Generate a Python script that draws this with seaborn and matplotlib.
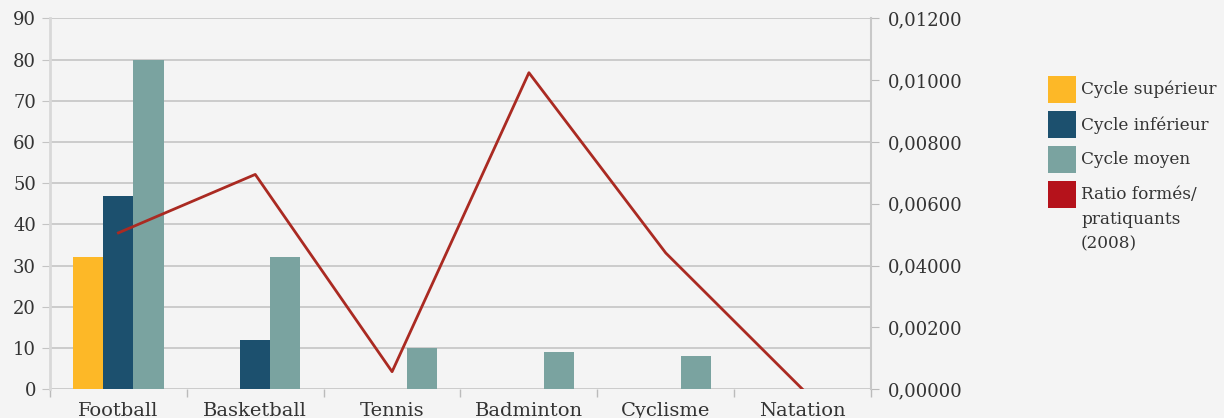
import numpy as np
import pandas as pd
import matplotlib
matplotlib.use('Agg')
import matplotlib.pyplot as plt
from matplotlib.patches import Rectangle
from matplotlib.ticker import FixedLocator, FixedFormatter
import seaborn as sns

sports = ['Football', 'Basketball', 'Tennis', 'Badminton', 'Cyclisme', 'Natation']
cycles = ['Cycle supérieur', 'Cycle inférieur', 'Cycle moyen']
superieur = [32, 0, 0, 0, 0, 0]
inferieur = [47, 12, 0, 0, 0, 0]
moyen = [80, 32, 10, 9, 8, 0]
ratio = [0.00506, 0.00695, 0.00057, 0.01024, 0.00441, 0.0]
ratio_label = 'Ratio formés/\npratiquants\n(2008)'
ratio_ticks = [0, 0.002, 0.004, 0.006, 0.008, 0.010, 0.012]
ratio_ticklabels = ['0,00000', '0,00200', '0,04000', '0,00600', '0,00800', '0,01000', '0,01200']

bar_colors = ['#FDB827', '#1C506E', '#7AA3A0']
line_color = '#AA2A22'
legend_red = '#B5121B'
text_color = '#333333'
bg = '#F4F4F4'
grid_color = '#C4C4C4'

df = pd.DataFrame({
    'sport': sports * 3,
    'cycle': [c for c in cycles for _ in sports],
    'value': superieur + inferieur + moyen,
})

plt.rcParams['font.family'] = ['DejaVu Serif']

fig = plt.figure(figsize=(12.24, 4.18), dpi=100, facecolor=bg)
ax = fig.add_axes([50 / 1224, 1 - 389.3 / 418, 821 / 1224, 371 / 418])
ax.set_facecolor(bg)

sns.barplot(data=df, x='sport', y='value', hue='cycle', order=sports, hue_order=cycles,
            palette=bar_colors, saturation=1, width=0.66, legend=False, ax=ax)
ax.set_xlim(-0.5, len(sports) - 0.5)
ax.set_ylim(0, 90)
ax.set_yticks(range(0, 91, 10))
ax.set_axisbelow(True)
ax.yaxis.grid(True, color=grid_color, lw=1.2)
ax.xaxis.grid(False)
ax.set_xlabel('')
ax.set_ylabel('')
for s in ['top', 'right', 'bottom']:
    ax.spines[s].set_visible(False)
ax.spines['left'].set_color('#D8D8D8')
ax.spines['left'].set_linewidth(2)
ax.tick_params(axis='y', length=6, color=grid_color, pad=4, labelsize=13, labelcolor=text_color)
ax.tick_params(axis='x', which='major', length=0, pad=9, labelsize=14, labelcolor=text_color)
ax.xaxis.set_minor_locator(FixedLocator(np.arange(-0.5, len(sports), 1.0)))
ax.tick_params(axis='x', which='minor', length=6, color='#BBBBBB', width=1)

ax2 = ax.twinx()
sns.lineplot(x=np.arange(len(sports)), y=ratio, color=line_color, lw=2, ax=ax2)
ax2.set_ylim(0, 0.012)
ax2.yaxis.set_major_locator(FixedLocator(ratio_ticks))
ax2.yaxis.set_major_formatter(FixedFormatter(ratio_ticklabels))
for s in ['top', 'left', 'bottom']:
    ax2.spines[s].set_visible(False)
ax2.spines['right'].set_color('#C8C8C8')
ax2.spines['right'].set_linewidth(1.5)
ax2.tick_params(axis='y', length=6, color='#BBBBBB', pad=6, labelsize=13, labelcolor=text_color)
ax2.set_xlim(-0.5, len(sports) - 0.5)

# legend drawn by hand (square patches, multi-line label top aligned)
labels = cycles + [ratio_label]
colors = bar_colors + [legend_red]
W, H = 1224, 418
for i, (lab, col) in enumerate(zip(labels, colors)):
    top = 76 + i * 35
    fig.patches.append(Rectangle((1048 / W, 1 - (top + 27) / H), 28 / W, 27 / H,
                                 transform=fig.transFigure, color=col, lw=0))
    fig.text(1081 / W, 1 - (top + 5) / H, lab, va='top', ha='left',
             fontsize=12.2, color=text_color, linespacing=1.6)

fig.savefig('out.png', dpi=100, facecolor=bg)
